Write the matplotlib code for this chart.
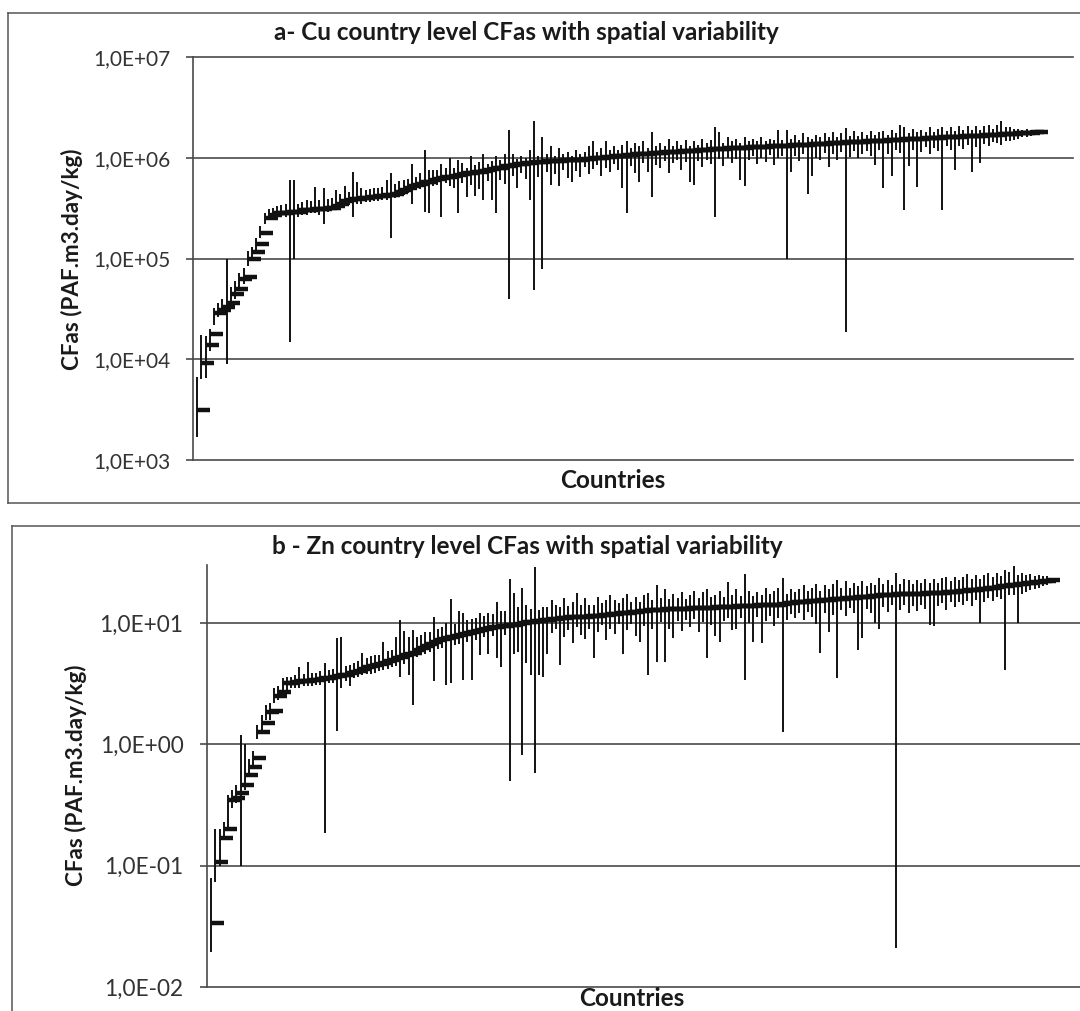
import numpy as np
import matplotlib
matplotlib.use("Agg")
import matplotlib.pyplot as plt
from matplotlib.lines import Line2D
from matplotlib.ticker import FixedLocator, NullLocator

# ---------------- data ----------------
cu_mean = [
    3.1e3, 9.1e3, 1.4e4, 1.8e4, 2.9e4, 3.1e4, 3.3e4, 3.6e4, 4.4e4, 5.0e4,
    6.2e4, 6.6e4, 1.0e5, 1.15e5, 1.4e5, 1.8e5, 2.5e5, 2.7e5, 2.8e5, 2.8e5,
    2.8e5, 2.9e5, 2.9e5, 2.9e5, 3.0e5, 3.0e5, 3.0e5, 3.1e5, 3.1e5, 3.1e5,
    3.2e5, 3.2e5, 3.3e5, 3.5e5, 3.7e5, 3.8e5, 3.9e5, 3.9e5, 4.0e5, 4.0e5,
    4.1e5, 4.1e5, 4.2e5, 4.2e5, 4.3e5, 4.3e5, 4.4e5, 4.6e5, 4.8e5, 5.0e5,
    5.2e5, 5.4e5, 5.5e5, 5.7e5, 5.8e5, 6.0e5, 6.1e5, 6.3e5, 6.4e5, 6.5e5,
    6.6e5, 6.8e5, 6.9e5, 7.0e5, 7.1e5, 7.2e5, 7.3e5, 7.4e5, 7.6e5, 7.8e5,
    7.9e5, 8.0e5, 8.2e5, 8.3e5, 8.5e5, 8.6e5, 8.7e5, 8.8e5, 8.9e5, 9.0e5,
    9.0e5, 9.1e5, 9.2e5, 9.2e5, 9.3e5, 9.3e5, 9.4e5, 9.5e5, 9.5e5, 9.6e5,
    9.6e5, 9.7e5, 9.8e5, 9.9e5, 1.0e6, 1.0e6, 1.01e6, 1.02e6, 1.03e6, 1.04e6,
    1.05e6, 1.06e6, 1.07e6, 1.08e6, 1.09e6, 1.1e6, 1.1e6, 1.11e6, 1.12e6, 1.12e6,
    1.13e6, 1.14e6, 1.15e6, 1.15e6, 1.16e6, 1.17e6, 1.18e6, 1.18e6, 1.19e6, 1.2e6,
    1.2e6, 1.21e6, 1.22e6, 1.22e6, 1.23e6, 1.24e6, 1.24e6, 1.25e6, 1.25e6, 1.26e6,
    1.27e6, 1.27e6, 1.28e6, 1.28e6, 1.29e6, 1.3e6, 1.3e6, 1.31e6, 1.31e6, 1.32e6,
    1.33e6, 1.33e6, 1.34e6, 1.35e6, 1.35e6, 1.36e6, 1.37e6, 1.37e6, 1.38e6, 1.39e6,
    1.4e6, 1.4e6, 1.41e6, 1.42e6, 1.42e6, 1.43e6, 1.44e6, 1.44e6, 1.45e6, 1.46e6,
    1.47e6, 1.47e6, 1.48e6, 1.49e6, 1.5e6, 1.5e6, 1.51e6, 1.52e6, 1.53e6, 1.53e6,
    1.54e6, 1.55e6, 1.56e6, 1.56e6, 1.57e6, 1.58e6, 1.59e6, 1.6e6, 1.6e6, 1.61e6,
    1.62e6, 1.63e6, 1.64e6, 1.65e6, 1.66e6, 1.66e6, 1.67e6, 1.68e6, 1.69e6, 1.7e6,
    1.71e6, 1.72e6, 1.73e6, 1.74e6, 1.75e6, 1.76e6, 1.77e6, 1.78e6, 1.79e6, 1.8e6,
]
cu_min = [
    1.7e3, 6.3e3, 6.5e3, 1.2e4, 2.2e4, 2.6e4, 2.8e4, 9.0e3, 3.6e4, 4.0e4,
    5.2e4, 5.6e4, 8.5e4, 1.0e5, 1.2e5, 1.6e5, 2.2e5, 2.4e5, 2.5e5, 2.5e5,
    2.6e5, 2.6e5, 1.5e4, 1.0e5, 2.6e5, 2.7e5, 2.7e5, 2.8e5, 2.8e5, 2.7e5,
    2.2e5, 2.9e5, 3.0e5, 3.1e5, 3.3e5, 3.3e5, 3.4e5, 2.6e5, 3.5e5, 3.5e5,
    3.6e5, 3.6e5, 3.7e5, 3.7e5, 3.8e5, 3.8e5, 1.6e5, 4.0e5, 4.1e5, 4.3e5,
    4.5e5, 3.5e5, 4.8e5, 4.9e5, 2.9e5, 2.8e5, 5.2e5, 5.4e5, 2.6e5, 5.6e5,
    5.2e5, 5.0e5, 2.8e5, 5.6e5, 4.1e5, 5.4e5, 4.2e5, 4.9e5, 3.8e5, 5.9e5,
    3.8e5, 2.8e5, 6.0e5, 5.5e5, 4.0e4, 6.6e5, 5.0e5, 7.0e5, 6.1e5, 3.8e5,
    4.9e4, 6.5e5, 7.8e4, 7.2e5, 5.4e5, 6.9e5, 5.2e5, 7.6e5, 6.3e5, 5.8e5,
    7.4e5, 6.4e5, 8.1e5, 6.9e5, 7.7e5, 8.4e5, 6.6e5, 8.0e5, 7.2e5, 8.6e5,
    7.5e5, 5.0e5, 2.8e5, 8.2e5, 7.0e5, 5.8e5, 8.8e5, 7.3e5, 4.1e5, 8.5e5,
    7.9e5, 9.2e5, 7.1e5, 8.8e5, 9.6e5, 7.6e5, 9.0e5, 5.8e5, 5.4e5, 9.3e5,
    8.1e5, 9.5e5, 8.6e5, 2.6e5, 9.7e5, 8.2e5, 1.0e6, 8.9e5, 9.8e5, 6.0e5,
    5.3e5, 9.6e5, 1.05e6, 8.7e5, 1.0e6, 9.1e5, 1.07e6, 8.5e5, 9.9e5, 1.04e6,
    1.0e5, 7.2e5, 1.05e6, 9.2e5, 1.1e6, 4.4e5, 6.6e5, 1.0e6, 9.4e5, 1.12e6,
    8.1e5, 1.08e6, 9.6e5, 1.15e6, 1.86e4, 1.02e6, 1.16e6, 9.9e5, 1.1e6, 1.18e6,
    1.05e6, 8.5e5, 1.2e6, 5.0e5, 1.08e6, 6.6e5, 1.2e6, 1.12e6, 3.0e5, 8.3e5,
    1.2e6, 5.1e5, 1.15e6, 1.28e6, 1.1e6, 1.25e6, 1.18e6, 3.0e5, 1.3e6, 1.2e6,
    7.6e5, 1.3e6, 1.22e6, 1.35e6, 7.2e5, 1.28e6, 8.8e5, 1.38e6, 1.3e6, 1.42e6,
    1.4e6, 1.35e6, 1.45e6, 1.48e6, 1.5e6, 1.55e6, 1.6e6, 1.62e6, 1.65e6, 1.68e6,
]
cu_max = [
    6.6e3, 1.75e4, 1.7e4, 2.0e4, 3.2e4, 3.6e4, 4.0e4, 1.0e5, 5.2e4, 6.0e4,
    7.2e4, 8.0e4, 1.2e5, 1.3e5, 1.6e5, 2.1e5, 2.8e5, 3.1e5, 3.2e5, 3.3e5,
    3.4e5, 3.5e5, 6.0e5, 6.0e5, 3.5e5, 3.6e5, 3.8e5, 3.7e5, 5.1e5, 3.8e5,
    5.0e5, 3.9e5, 4.0e5, 4.8e5, 4.4e5, 5.2e5, 4.6e5, 7.2e5, 5.8e5, 5.0e5,
    4.8e5, 4.9e5, 5.0e5, 5.0e5, 5.1e5, 6.0e5, 7.1e5, 5.5e5, 5.9e5, 6.0e5,
    6.2e5, 8.6e5, 6.5e5, 7.0e5, 1.2e6, 7.5e5, 7.6e5, 7.5e5, 8.7e5, 8.0e5,
    1.0e6, 8.0e5, 9.5e5, 8.9e5, 8.0e5, 1.05e6, 8.4e5, 9.0e5, 1.1e6, 8.6e5,
    9.3e5, 1.05e6, 9.4e5, 1.1e6, 1.9e6, 1.1e6, 9.8e5, 1.05e6, 1.0e6, 1.2e6,
    2.3e6, 1.05e6, 1.6e6, 1.1e6, 1.3e6, 1.05e6, 1.25e6, 1.1e6, 1.15e6, 1.05e6,
    1.2e6, 1.1e6, 1.15e6, 1.3e6, 1.45e6, 1.15e6, 1.25e6, 1.45e6, 1.2e6, 1.3e6,
    1.2e6, 1.35e6, 1.45e6, 1.25e6, 1.4e6, 1.3e6, 1.45e6, 1.25e6, 1.8e6, 1.3e6,
    1.4e6, 1.3e6, 1.55e6, 1.3e6, 1.45e6, 1.35e6, 1.5e6, 1.32e6, 1.45e6, 1.35e6,
    1.55e6, 1.4e6, 1.5e6, 2.0e6, 1.8e6, 1.4e6, 1.6e6, 1.45e6, 1.55e6, 1.4e6,
    1.6e6, 1.45e6, 1.55e6, 1.45e6, 1.6e6, 1.45e6, 1.55e6, 1.5e6, 1.9e6, 1.5e6,
    1.9e6, 1.55e6, 1.7e6, 1.5e6, 1.75e6, 1.6e6, 1.55e6, 1.7e6, 1.6e6, 1.75e6,
    1.6e6, 1.8e6, 1.6e6, 1.75e6, 1.97e6, 1.65e6, 1.85e6, 1.65e6, 1.8e6, 1.7e6,
    1.85e6, 1.7e6, 1.8e6, 1.85e6, 1.7e6, 1.9e6, 1.75e6, 2.1e6, 2.0e6, 1.75e6,
    1.95e6, 1.8e6, 1.9e6, 1.8e6, 2.0e6, 1.8e6, 1.95e6, 2.0e6, 1.85e6, 2.0e6,
    1.85e6, 2.05e6, 1.9e6, 2.05e6, 1.9e6, 2.05e6, 1.9e6, 2.05e6, 2.1e6, 1.95e6,
    2.1e6, 2.3e6, 2.0e6, 2.0e6, 1.95e6, 1.95e6, 1.9e6, 1.95e6, 1.9e6, 1.9e6,
]

zn_mean = [
    0.034, 0.107, 0.17, 0.2, 0.35, 0.36, 0.40, 0.46, 0.56, 0.65,
    0.77, 1.27, 1.5, 1.85, 1.9, 2.5, 2.7, 3.2, 3.2, 3.25,
    3.3, 3.3, 3.35, 3.4, 3.4, 3.45, 3.5, 3.55, 3.6, 3.65,
    3.7, 3.75, 3.85, 3.95, 4.05, 4.2, 4.3, 4.4, 4.5, 4.6,
    4.7, 4.85, 5.0, 5.1, 5.25, 5.4, 5.55, 5.7, 5.95, 6.2,
    6.5, 6.75, 7.0, 7.2, 7.35, 7.5, 7.7, 7.8, 7.95, 8.1,
    8.25, 8.4, 8.6, 8.8, 9.0, 9.1, 9.2, 9.3, 9.4, 9.5,
    9.6, 9.7, 9.8, 10.0, 10.1, 10.2, 10.3, 10.4, 10.5, 10.6,
    10.7, 10.8, 11.0, 11.0, 11.1, 11.1, 11.2, 11.2, 11.3, 11.4,
    11.4, 11.5, 11.6, 11.7, 11.8, 11.9, 12.0, 12.1, 12.2, 12.3,
    12.4, 12.5, 12.6, 12.7, 12.8, 12.85, 12.9, 12.95, 13.0, 13.05,
    13.1, 13.1, 13.15, 13.2, 13.2, 13.25, 13.3, 13.35, 13.4, 13.45,
    13.5, 13.55, 13.6, 13.65, 13.7, 13.75, 13.8, 13.85, 13.9, 13.95,
    14.0, 14.0, 14.05, 14.1, 14.1, 14.3, 14.5, 14.6, 14.8, 14.9,
    15.0, 15.1, 15.2, 15.3, 15.4, 15.5, 15.6, 15.7, 15.8, 15.9,
    16.0, 16.1, 16.2, 16.3, 16.4, 16.5, 16.6, 16.8, 17.0, 17.05,
    17.1, 17.15, 17.2, 17.25, 17.3, 17.35, 17.4, 17.45, 17.5, 17.55,
    17.6, 17.65, 17.7, 17.8, 17.9, 18.0, 18.1, 18.25, 18.4, 18.55,
    18.7, 18.85, 19.0, 19.15, 19.3, 19.5, 19.8, 20.0, 20.2, 20.4,
    20.6, 20.8, 21.0, 21.2, 21.4, 21.6, 21.8, 22.0, 22.3, 22.6,
]
zn_min = [
    0.0193, 0.073, 0.1, 0.17, 0.2, 0.3, 0.33, 0.1, 0.42, 0.55,
    0.68, 1.1, 1.3, 1.6, 1.6, 2.2, 2.3, 2.8, 2.8, 2.9,
    2.9, 2.9, 3.0, 3.0, 3.0, 3.1, 3.1, 0.185, 3.2, 3.2,
    1.3, 2.9, 3.3, 3.0, 3.5, 3.6, 3.7, 3.8, 3.8, 3.9,
    4.0, 4.1, 4.2, 4.3, 4.4, 3.6, 4.6, 3.7, 2.1, 5.2,
    5.4, 5.6, 5.8, 3.3, 6.1, 6.2, 3.1, 3.2, 6.6, 6.7,
    3.4, 7.0, 3.4, 7.3, 5.4, 7.6, 5.6, 7.8, 5.1, 4.3,
    8.0, 0.5, 5.6, 5.8, 0.82, 4.7, 3.7, 0.58, 3.7, 3.6,
    5.6, 8.2, 9.0, 4.5, 7.6, 8.8, 6.9, 9.3, 8.0, 7.4,
    8.9, 5.1, 8.4, 9.6, 7.2, 9.0, 8.1, 9.9, 5.6, 8.7,
    9.8, 7.8, 7.0, 9.5, 3.7, 8.9, 4.75, 10.1, 4.75, 9.0,
    7.5, 10.3, 8.6, 10.5, 9.2, 10.8, 8.4, 10.2, 5.1, 9.6,
    7.8, 7.0, 10.4, 11.0, 8.8, 9.0, 10.9, 3.4, 10.0, 7.0,
    11.2, 6.8, 10.3, 11.5, 9.4, 11.0, 1.27, 10.6, 11.8, 10.9,
    12.0, 10.6, 12.4, 11.3, 9.9, 5.7, 12.2, 8.5, 11.6, 3.5,
    12.8, 11.5, 13.2, 12.0, 6.0, 7.5, 13.0, 12.1, 10.0, 9.0,
    13.5, 12.4, 14.0, 0.021, 12.8, 14.1, 12.0, 13.9, 12.6, 14.2,
    13.1, 9.7, 9.5, 13.8, 14.6, 12.9, 14.8, 13.5, 15.0, 14.2,
    15.1, 13.9, 15.6, 10.0, 14.8, 16.0, 15.2, 16.5, 15.8, 4.1,
    16.9, 17.0, 10.0, 17.5, 18.0, 18.6, 19.0, 19.5, 20.0, 20.5,
]
zn_max = [
    0.079, 0.2, 0.2, 0.23, 0.38, 0.42, 0.46, 1.2, 1.0, 0.75,
    0.88, 1.45, 1.75, 2.1, 2.2, 2.9, 3.0, 3.5, 3.6, 3.6,
    3.7, 4.3, 3.8, 4.8, 3.9, 3.9, 4.0, 4.7, 4.1, 4.2,
    7.5, 7.7, 4.4, 4.5, 4.7, 4.9, 5.7, 5.1, 5.3, 5.4,
    5.5, 7.0, 5.9, 6.0, 7.7, 10.6, 8.6, 7.7, 8.8, 7.6,
    8.0, 8.4, 8.5, 11.2, 9.0, 9.2, 10.0, 15.8, 9.8, 12.5,
    12.0, 10.5, 10.8, 11.0, 12.0, 11.5, 12.0, 11.8, 14.8, 12.5,
    12.5, 23.0, 17.6, 13.5, 19.5, 14.0, 13.0, 29.0, 12.8, 13.5,
    13.5, 15.5, 14.0, 13.5, 16.0, 13.8, 15.0, 17.6, 14.2, 16.0,
    14.0, 14.2, 16.5, 14.5, 15.5, 17.0, 15.5, 14.5, 16.0, 17.5,
    15.0, 16.5, 14.8, 17.0, 17.6, 15.5, 20.6, 16.0, 19.0, 15.8,
    17.5, 16.0, 18.0, 15.8, 17.0, 18.5, 16.0, 18.0, 19.0, 16.5,
    17.0, 18.5, 16.5, 21.8, 17.0, 19.0, 16.8, 25.4, 18.5, 16.8,
    18.0, 17.0, 19.5, 17.2, 18.5, 19.5, 23.5, 17.5, 19.0, 18.0,
    18.9, 20.5, 18.2, 19.5, 21.0, 18.5, 20.5, 19.0, 21.0, 22.6,
    19.5, 22.0, 19.5, 21.5, 20.0, 22.0, 20.0, 21.5, 20.5, 23.5,
    21.0, 22.5, 20.5, 25.8, 21.0, 23.0, 22.8, 21.0, 22.5, 21.5,
    23.0, 21.5, 23.0, 21.5, 23.5, 24.0, 22.0, 24.0, 22.5, 24.0,
    25.5, 23.0, 25.0, 23.0, 25.0, 26.0, 24.0, 26.0, 24.5, 27.3,
    26.5, 29.5, 25.0, 26.0, 25.0, 25.5, 24.5, 25.0, 24.5, 24.5,
]

cu_ticks = [1e3, 1e4, 1e5, 1e6, 1e7]
cu_tick_labels = ["1,0E+03", "1,0E+04", "1,0E+05", "1,0E+06", "1,0E+07"]
zn_ticks = [1e-2, 1e-1, 1e0, 1e1]
zn_tick_labels = ["1,0E-02", "1,0E-01", "1,0E+00", "1,0E+01"]

title_a = "a- Cu country level CFas with spatial variability"
title_b = "b - Zn country level CFas with spatial variability"
ylabel = "CFas (PAF.m3.day/kg)"
xlabel = "Countries"

# ---------------- figure ----------------
plt.rcParams['font.family'] = ['Lato', 'DejaVu Sans']
W, H = 1080, 1011
fig = plt.figure(figsize=(W / 100, H / 100), dpi=100)
fig.patch.set_facecolor('white')

GRID = '#4a4a4a'
INK = '#111111'
TXT = '#1a1a1a'


def px_axes(l, t, r, b):
    return fig.add_axes([l / W, 1 - b / H, (r - l) / W, (b - t) / H])


def seg(x0, y0, x1, y1):
    fig.add_artist(Line2D([x0 / W, x1 / W], [1 - y0 / H, 1 - y1 / H],
                          transform=fig.transFigure, color='#555555', lw=1.1))


def draw(ax, mean, lo, hi, ylim, xmax, ticks, labels, tsize, pad):
    x = np.arange(1, len(mean) + 1)
    ax.set_yscale('log')
    ax.set_ylim(*ylim)
    ax.set_xlim(0, xmax)
    for t in ticks:
        ax.axhline(t, color=GRID, lw=1.2, clip_on=False, zorder=1)
    ax.vlines(x, lo, hi, color=INK, lw=1.4, zorder=3)
    ax.plot(x, mean, ls='none', marker=1, ms=9, mew=3.2, color=INK, zorder=4)
    ax.yaxis.set_major_locator(FixedLocator(ticks))
    ax.yaxis.set_minor_locator(NullLocator())
    ax.set_yticklabels(labels)
    ax.set_xticks([])
    for s in ['top', 'right', 'bottom']:
        ax.spines[s].set_visible(False)
    ax.spines['left'].set_color(GRID)
    ax.spines['left'].set_linewidth(1.2)
    ax.tick_params(axis='y', direction='out', length=5, width=1.2, color=GRID,
                   labelsize=tsize, labelcolor='#333333', pad=pad)
    ax.set_facecolor('none')


# outer chart frames (left, top, bottom edges; right side is cut off)
seg(8, 13, 1080, 13)
seg(8, 13, 8, 503)
seg(8, 503, 1080, 503)
seg(12, 526, 1080, 526)
seg(12, 526, 12, 1011)

# panel a
ax1 = px_axes(193, 57, 1073, 460)
draw(ax1, cu_mean, cu_min, cu_max, (1e3, 1e7), 880 / 4.21,
     cu_ticks, cu_tick_labels, 15, 11)

# panel b
ax2 = px_axes(207, 565, 1080, 987)
draw(ax2, zn_mean, zn_min, zn_max, (1e-2, 10 ** 1.478), (1080 - 207.3) / 4.2,
     zn_ticks, zn_tick_labels, 16.3, 12)

# texts
fig.text(526 / W, 1 - 33 / H, title_a, ha='center', va='center',
         fontsize=17.5, fontweight='bold', color=TXT)
fig.text(527 / W, 1 - 547 / H, title_b, ha='center', va='center',
         fontsize=17.5, fontweight='bold', color=TXT)
fig.text(613 / W, 1 - 481 / H, xlabel, ha='center', va='center',
         fontsize=17.5, fontweight='bold', color=TXT)
fig.text(632 / W, 1 - 998 / H, xlabel, ha='center', va='center',
         fontsize=17.5, fontweight='bold', color=TXT)
fig.text(72 / W, 1 - 259 / H, ylabel, ha='center', va='center', rotation=90,
         fontsize=16.2, fontweight='bold', color=TXT)
fig.text(76 / W, 1 - 775 / H, ylabel, ha='center', va='center', rotation=90,
         fontsize=16.2, fontweight='bold', color=TXT)

fig.savefig('out.png', dpi=100, facecolor='white')
